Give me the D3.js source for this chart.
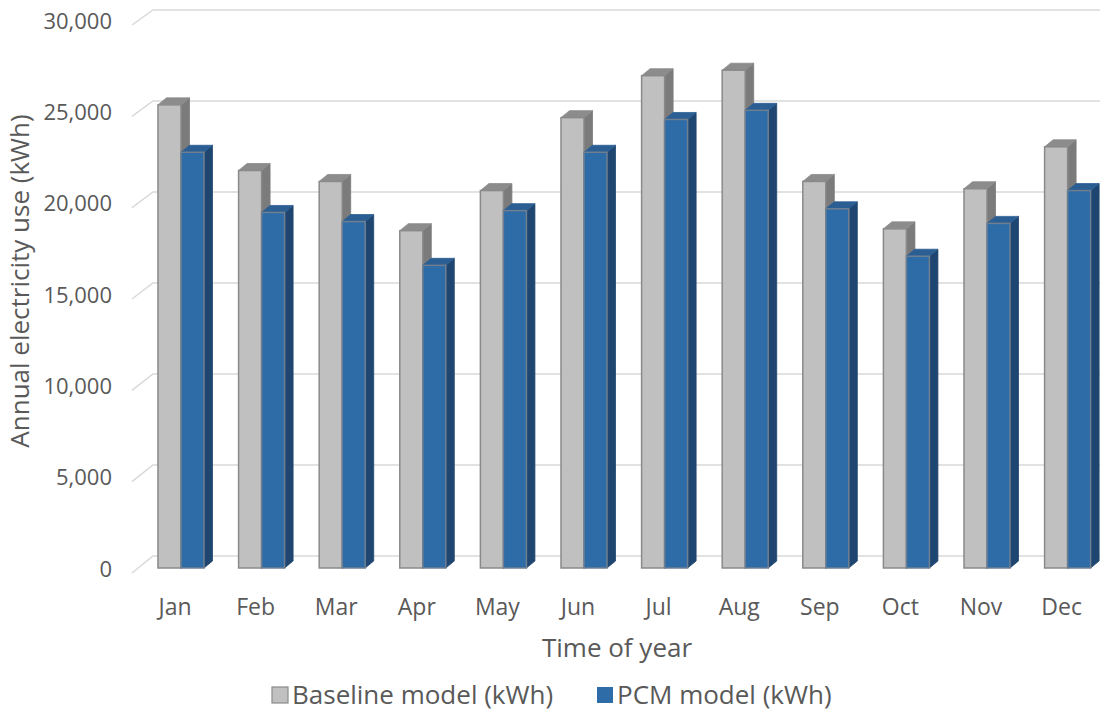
<!DOCTYPE html>
<html>
<head>
<meta charset="utf-8">
<script src="https://cdn.jsdelivr.net/npm/d3@7"></script>
<style>
  html, body { margin: 0; padding: 0; background: #fff; }
  svg { display: block; }
  text { font-family: "Open Sans", "Noto Sans", sans-serif; fill: #595959; }
</style>
</head>
<body>
<svg id="chart" width="1114" height="713"></svg>
<script>
// Monthly electricity use, baseline building vs. building with PCM
const months = ["Jan", "Feb", "Mar", "Apr", "May", "Jun", "Jul", "Aug", "Sep", "Oct", "Nov", "Dec"];
const seriesNames = ["Baseline model (kWh)", "PCM model (kWh)"];
const baselineKWh = [25400, 21800, 21200, 18500, 20700, 24700, 27000, 27300, 21200, 18600, 20800, 23100];
const pcmKWh = [22800, 19500, 19000, 16600, 19600, 22800, 24600, 25100, 19700, 17100, 18900, 20700];
const yTicks = [0, 5000, 10000, 15000, 20000, 25000, 30000];
const xTitle = "Time of year";
const yTitle = "Annual electricity use (kWh)";

const svg = d3.select("#chart");

// 3D box styling per series: front, top, side faces
const faces = [
  { front: "#c0c0c0", top: "#8c8c8c", side: "#7b7b7b", stroke: "#8a8a8a" },
  { front: "#2e6ca8", top: "#2b5e93", side: "#1f4670", stroke: "#6f7f90" }
];
const depthX = 8.5, depthY = 7;

// Value scales: front floor edge, bar front plane, back wall
const yEdge = d3.scaleLinear().domain([0, 30000]).range([573, 25]);
const yBar = d3.scaleLinear().domain([0, 30000]).range([568, 21]);
const yWall = d3.scaleLinear().domain([0, 30000]).range([556, 10]);
const wallLeft = 153, wallRight = 1100, edgeLeft = 132;

// Category and series scales
const x0 = d3.scaleBand().domain(months).range([133.8, 1114.8]).paddingInner(0.429).paddingOuter(0.3);
const x1 = d3.scaleBand().domain(seriesNames).range([0, x0.bandwidth()]);

// Gridlines: slanted segment on the side wall, then across the back wall
const grid = svg.append("g").attr("stroke", "#d9d9d9").attr("stroke-width", 1.5).attr("fill", "none");
grid.selectAll("path").data(yTicks).join("path")
  .attr("d", v => `M${edgeLeft},${yEdge(v)}L${wallLeft},${yWall(v)}L${wallRight},${yWall(v)}`);

// Y tick labels
const yAxis = d3.axisLeft(yEdge).tickValues(yTicks).tickFormat(d3.format(",")).tickSize(0).tickPadding(0);
const yAxisG = svg.append("g").attr("transform", "translate(112,-4)").call(yAxis);
yAxisG.select(".domain").remove();
yAxisG.selectAll("text").style("font-size", "22px").style("font-family", null).attr("fill", "#595959");

// Bars
const data = months.map((m, i) => ({ month: m, values: [baselineKWh[i], pcmKWh[i]] }));
const groups = svg.append("g").selectAll("g").data(data).join("g")
  .attr("transform", d => `translate(${x0(d.month)},0)`);

groups.each(function (d) {
  const g = d3.select(this);
  d.values.forEach((v, si) => {
    const f = faces[si];
    const x = x1(seriesNames[si]);
    const w = x1.bandwidth();
    const yt = yBar(v), yb = yBar(0);
    // side face
    g.append("path")
      .attr("d", `M${x + w},${yt}L${x + w + depthX},${yt - depthY}L${x + w + depthX},${yb - depthY}L${x + w},${yb}Z`)
      .attr("fill", f.side).attr("stroke", f.side).attr("stroke-width", 0.8);
    // top face
    g.append("path")
      .attr("d", `M${x},${yt}L${x + depthX},${yt - depthY}L${x + w + depthX},${yt - depthY}L${x + w},${yt}Z`)
      .attr("fill", f.top).attr("stroke", f.top).attr("stroke-width", 0.8);
    // front face
    g.append("rect")
      .attr("x", x).attr("y", yt).attr("width", w).attr("height", yb - yt)
      .attr("fill", f.front).attr("stroke", f.stroke).attr("stroke-width", 1.5);
  });
});

// Month labels along the front floor edge
svg.append("g").selectAll("text").data(months).join("text")
  .attr("x", m => x0(m) + x0.bandwidth() * 0.37)
  .attr("y", 615)
  .attr("text-anchor", "middle")
  .style("font-size", "23px")
  .text(m => m);

// Axis titles
svg.append("text")
  .attr("x", 617).attr("y", 657)
  .attr("text-anchor", "middle")
  .style("font-size", "26px")
  .text(xTitle);

svg.append("text")
  .attr("transform", "translate(29,281) rotate(-90)")
  .attr("text-anchor", "middle")
  .style("font-size", "26px")
  .text(yTitle);

// Legend
const legendX = [272, 597];
const legend = svg.append("g").selectAll("g").data(seriesNames).join("g")
  .attr("transform", (d, i) => `translate(${legendX[i]},687)`);
legend.append("rect")
  .attr("width", 16).attr("height", 16)
  .attr("fill", (d, i) => faces[i].front)
  .attr("stroke", (d, i) => i === 0 ? "#8a8a8a" : "none")
  .attr("stroke-width", 1.2);
legend.append("text")
  .attr("x", 20).attr("y", 17)
  .style("font-size", "26px")
  .text(d => d);
</script>
</body>
</html>
